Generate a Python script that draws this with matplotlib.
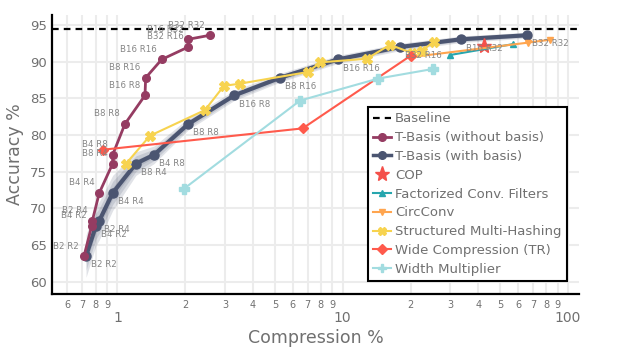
import matplotlib
matplotlib.use("Agg")
import matplotlib.pyplot as plt
import numpy as np
from matplotlib.lines import Line2D

# ---------------- data ----------------
tb_labels = ["B2 R2", "B4 R2", "B2 R4", "B4 R4", "B8 R4", "B4 R8", "B8 R8",
             "B16 R8", "B8 R16", "B16 R16", "B32 R16", "B16 R32", "B32 R32"]
tb_acc = [63.5, 67.6, 68.3, 72.1, 76.1, 77.3, 81.5, 85.4, 87.8, 90.3, 92.0, 93.05, 93.6]
tb_comp_nobasis = [0.711, 0.769, 0.774, 0.831, 0.953, 0.953, 1.08, 1.326, 1.335,
                   1.573, 2.064, 2.064, 2.577]
tb_comp_basis = [0.726, 0.803, 0.831, 0.953, 1.209, 1.454, 2.064, 3.30, 5.27,
                 9.50, 17.96, 33.5, 65.6]
tb_band = [2.9, 2.7, 2.6, 2.4, 1.6, 1.2, 0.8, 0.7, 0.6, 0.55, 0.5, 0.45, 0.4]

baseline_acc = 94.4

cop_comp = [42.5]
cop_acc = [92.1]

fcf_comp = [29.9, 57.2]
fcf_acc = [90.9, 92.4]

circ_comp = [19.9, 66.7, 83.2]
circ_acc = [90.6, 92.6, 93.0]

smh_comp = [1.093, 1.395, 2.448, 2.97, 3.50, 7.04, 7.92, 12.8, 16.2, 20.2, 22.5, 25.3]
smh_acc = [76.1, 79.9, 83.4, 86.7, 87.0, 88.6, 89.9, 90.4, 92.3, 91.2, 91.5, 92.7]

wide_comp = [0.866, 6.64, 20.0]
wide_acc = [78.0, 80.9, 90.8]

wm_comp = [1.98, 6.47, 14.4, 25.1]
wm_acc = [72.7, 84.7, 87.7, 89.0]

x_major = [1, 10, 100]
x_minor = [0.6, 0.7, 0.8, 0.9, 2, 3, 4, 5, 6, 7, 8, 9, 20, 30, 40, 50, 60, 70, 80, 90]
x_minor_labels = ["6", "7", "8", "9", "2", "3", "4", "5", "6", "7", "8", "9",
                  "2", "3", "4", "5", "6", "7", "8", "9"]
y_ticks = [60, 65, 70, 75, 80, 85, 90, 95]

# ---------------- styling ----------------
C_MAROON = "#953c62"
C_SLATE = "#4b5571"
C_COP = "#f4504a"
C_FCF = "#27a6ae"
C_CIRC = "#ffa54f"
C_SMH = "#f7d34f"
C_WIDE = "#ff5a4c"
C_WM = "#a2dce0"
C_TEXT = "#707070"

plt.rcParams["font.family"] = ["DejaVu Sans"]

fig = plt.figure(figsize=(6.28, 3.53), dpi=100)
ax = fig.add_axes([0.0823, 0.1671, 0.8403, 0.7904])
ax.set_xscale("log")
ax.set_xlim(0.511, 112.3)
ax.set_ylim(58.32, 96.36)

# grid
for v in x_major + x_minor:
    ax.axvline(v, color="#ececec", lw=1.5, zorder=0)
for v in y_ticks:
    ax.axhline(v, color="#ececec", lw=1.5, zorder=0)

# baseline
ax.axhline(baseline_acc, color="black", lw=1.6, ls=(0, (3.0, 2.3)), zorder=2)

# T-Basis (with basis) band + line
xb = np.array(tb_comp_basis)
yb = np.array(tb_acc)
sb = np.array(tb_band)
for frac in [1.0, 0.66, 0.33]:
    ax.fill_between(xb, yb - sb * frac, yb + sb * frac, color=C_SLATE,
                    alpha=0.17, lw=0, zorder=3)
ax.plot(tb_comp_basis, tb_acc, color=C_SLATE, lw=3, marker="o", ms=6.5, zorder=4)

# T-Basis (without basis)
ax.plot(tb_comp_nobasis, tb_acc, color=C_MAROON, lw=2, marker="o", ms=5.5, zorder=5)

# COP
ax.plot(cop_comp, cop_acc, ls="none", marker="*", ms=11, color=C_COP, zorder=6)
# Factorized conv filters
ax.plot(fcf_comp, fcf_acc, color=C_FCF, lw=1.5, marker="^", ms=5, zorder=6)
# CircConv
ax.plot(circ_comp, circ_acc, color=C_CIRC, lw=1.5, marker="v", ms=5, zorder=6)
# Structured multi-hashing
ax.plot(smh_comp, smh_acc, color=C_SMH, lw=1.5, marker="X", ms=6.5, zorder=6)
# Wide compression
ax.plot(wide_comp, wide_acc, color=C_WIDE, lw=1.5, marker="D", ms=5, zorder=6)
# Width multiplier
ax.plot(wm_comp, wm_acc, color=C_WM, lw=1.5, marker="P", ms=7, zorder=6)

# point labels
for lab, x, y in zip(tb_labels, tb_comp_nobasis, tb_acc):
    ax.annotate(lab, (x, y), xytext=(-3.6, 7.2), textcoords="offset points",
                ha="right", va="center", fontsize=6.2, color="#858585", zorder=7)
for lab, x, y in zip(tb_labels, tb_comp_basis, tb_acc):
    ax.annotate(lab, (x, y), xytext=(3.6, -6.3), textcoords="offset points",
                ha="left", va="center", fontsize=6.2, color="#858585", zorder=7)

# axes styling
for s in ["top", "right"]:
    ax.spines[s].set_visible(False)
for s in ["left", "bottom"]:
    ax.spines[s].set_linewidth(1.6)
    ax.spines[s].set_color("black")

ax.set_xticks(x_major)
ax.set_xticklabels([str(v) for v in x_major])
ax.set_xticks(x_minor, minor=True)
ax.set_xticklabels(x_minor_labels, minor=True)
ax.tick_params(axis="x", which="major", length=0, pad=12, labelsize=10, labelcolor=C_TEXT)
ax.tick_params(axis="x", which="minor", length=0, pad=4.5, labelsize=7, labelcolor=C_TEXT)
ax.set_yticks(y_ticks)
ax.set_yticklabels([str(v) for v in y_ticks])
ax.tick_params(axis="y", length=0, pad=3.6, labelsize=9.5, labelcolor=C_TEXT)

ax.set_xlabel("Compression %", fontsize=12.5, color=C_TEXT, labelpad=3)
ax.set_ylabel("Accuracy %", fontsize=12.5, color=C_TEXT, labelpad=4)

# legend
handles = [
    Line2D([], [], color="black", lw=1.6, ls=(0, (3.0, 2.3))),
    Line2D([], [], color=C_MAROON, lw=2, marker="o", ms=5.5),
    Line2D([], [], color=C_SLATE, lw=2.5, marker="o", ms=5.5),
    Line2D([], [], ls="none", marker="*", ms=11, color=C_COP),
    Line2D([], [], color=C_FCF, lw=1.5, marker="^", ms=5),
    Line2D([], [], color=C_CIRC, lw=1.5, marker="v", ms=5),
    Line2D([], [], color=C_SMH, lw=1.5, marker="X", ms=6),
    Line2D([], [], color=C_WIDE, lw=1.5, marker="D", ms=5),
    Line2D([], [], color=C_WM, lw=1.5, marker="P", ms=6),
]
names = ["Baseline", "T-Basis (without basis)", "T-Basis (with basis)", "COP",
         "Factorized Conv. Filters", "CircConv", "Structured Multi-Hashing",
         "Wide Compression (TR)", "Width Multiplier"]
leg = ax.legend(handles, names, loc="upper left", bbox_to_anchor=(0.599, 0.670),
                borderaxespad=0, fontsize=9.5, labelspacing=0.44, handlelength=1.35,
                handletextpad=0.3, borderpad=0.4, fancybox=False, framealpha=1,
                edgecolor="black", numpoints=1)
leg.get_frame().set_linewidth(1.5)
leg.set_zorder(10)
for t in leg.get_texts():
    t.set_color(C_TEXT)

fig.savefig("out.png", dpi=100)
